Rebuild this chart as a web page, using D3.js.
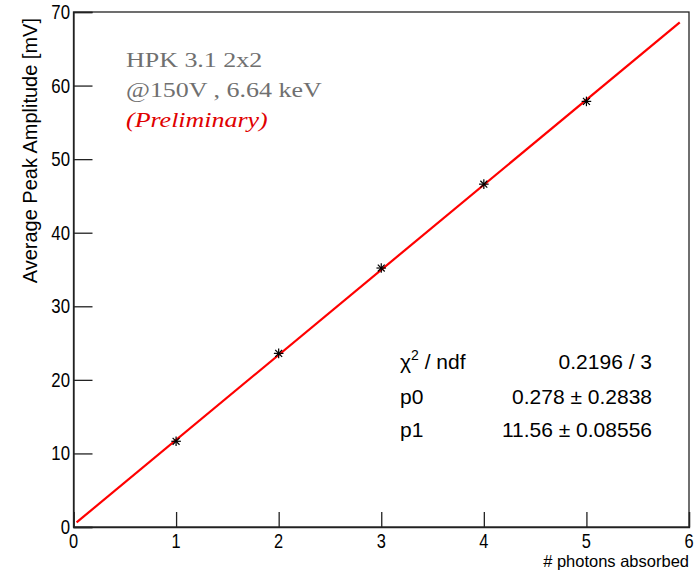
<!DOCTYPE html>
<html><head><meta charset="utf-8">
<script src="https://cdn.jsdelivr.net/npm/d3@7"></script>
<style>body{margin:0;background:#fff}svg{display:block}</style>
</head><body><svg id="c" width="697" height="574"></svg>
<script>
const photons = [1, 2, 3, 4, 5];
const amplitude = [11.65, 23.6, 35.2, 46.6, 57.85];
const xTicks = [0, 1, 2, 3, 4, 5, 6];
const yTicks = [0, 10, 20, 30, 40, 50, 60, 70];
const fitP0 = 0.278, fitP1 = 11.56;
const fitRange = [0.03, 5.91];
const statsLabels = ["χ", "p0", "p1"];
const statsValues = ["0.2196 / 3", "0.278 ± 0.2838", "11.56 ± 0.08556"];
const noteLines = ["HPK 3.1 2x2", "@150V , 6.64 keV", "(Preliminary)"];
const xTitle = "# photons absorbed";
const yTitle = "Average Peak Amplitude [mV]";

const svg = d3.select("#c");
const L = 73.5, R = 689, T = 12, B = 527;
const x = d3.scaleLinear().domain([0, 6]).range([L, R]);
const y = d3.scaleLinear().domain([0, 70]).range([B, T]);
const sans = "'Liberation Sans', Arial, sans-serif";
const serif = "'Liberation Serif', 'DejaVu Serif', serif";

function txt(g, px, py, s, opts) {
  const t = g.append("text")
    .attr("transform", `translate(${px},${py}) scale(${opts.sx || 1},1)`)
    .attr("font-family", opts.family || sans)
    .attr("font-size", opts.size || 20)
    .attr("fill", opts.fill || "#000")
    .attr("text-anchor", opts.anchor || "start")
    .text(s);
  if (opts.italic) t.attr("font-style", "italic");
  return t;
}

// frame
svg.append("rect").attr("x", L).attr("y", T).attr("width", R - L).attr("height", B - T)
  .attr("fill", "none").attr("stroke", "#222").attr("stroke-width", 1.3);

// x axis
const gx = svg.append("g").attr("transform", `translate(0,${B})`);
gx.call(d3.axisTop(x).tickValues(d3.range(0, 6.001, 0.2)).tickSize(7).tickFormat(""))
gx.call(d3.axisTop(x).tickValues(xTicks).tickSize(15).tickFormat(""));
gx.selectAll(".domain").attr("stroke", "#222").attr("stroke-width", 1.3);
gx.selectAll("line").attr("stroke", "#222").attr("stroke-width", 1.3);
xTicks.forEach(v => txt(svg, x(v), 548, String(v), {anchor: "middle", size: 20, sx: 0.82}));

// y axis
const gy = svg.append("g").attr("transform", `translate(${L},0)`);
gy.call(d3.axisRight(y).tickValues(d3.range(0, 70.001, 2)).tickSize(10).tickFormat(""));
gy.call(d3.axisRight(y).tickValues(yTicks).tickSize(19).tickFormat(""));
gy.selectAll(".domain").attr("stroke", "#222").attr("stroke-width", 1.3);
gy.selectAll("line").attr("stroke", "#222").attr("stroke-width", 1.3);
yTicks.forEach(v => txt(svg, 70, y(v) + 7, String(v), {anchor: "end", size: 20, sx: 0.84}));

// titles
txt(svg, 689, 567, xTitle, {anchor: "end", size: 16.5});
svg.append("text")
  .attr("transform", `translate(37,18) rotate(-90)`)
  .attr("font-family", sans).attr("font-size", 20).attr("text-anchor", "end")
  .text(yTitle);

// fit line
const line = d3.line().x(d => x(d)).y(d => y(fitP0 + fitP1 * d));
svg.append("path").datum(fitRange).attr("d", line)
  .attr("fill", "none").attr("stroke", "#f00").attr("stroke-width", 2.2);

// markers (asterisk)
const pts = svg.append("g");
photons.forEach((p, i) => {
  const cx = x(p), cy = y(amplitude[i]), r = 4.8, d = r * 0.72;
  const g = pts.append("g").attr("stroke", "#000").attr("stroke-width", 1.2);
  g.append("line").attr("x1", cx - r).attr("x2", cx + r).attr("y1", cy).attr("y2", cy);
  g.append("line").attr("x1", cx).attr("x2", cx).attr("y1", cy - r).attr("y2", cy + r);
  g.append("line").attr("x1", cx - d).attr("x2", cx + d).attr("y1", cy - d).attr("y2", cy + d);
  g.append("line").attr("x1", cx - d).attr("x2", cx + d).attr("y1", cy + d).attr("y2", cy - d);
});

// notes
const noteColors = ["#707070", "#707070", "#e00000"];
const noteY = [67, 97, 127];
noteLines.forEach((s, i) => txt(svg, 126, noteY[i], s, {family: serif, size: 22, sx: 1.18, fill: noteColors[i], italic: i === 2}));

// stats
const statY = [369, 404, 437];
statsLabels.forEach((s, i) => {
  const t = txt(svg, 400, statY[i], i === 0 ? "" : s, {size: 21});
  if (i === 0) {
    t.append("tspan").text("χ");
    t.append("tspan").attr("dy", -9).attr("font-size", 14).text("2");
    t.append("tspan").attr("dy", 9).text(" / ndf");
  }
});
statsValues.forEach((s, i) => txt(svg, 652, statY[i], s, {anchor: "end", size: 21}));
</script></body></html>
